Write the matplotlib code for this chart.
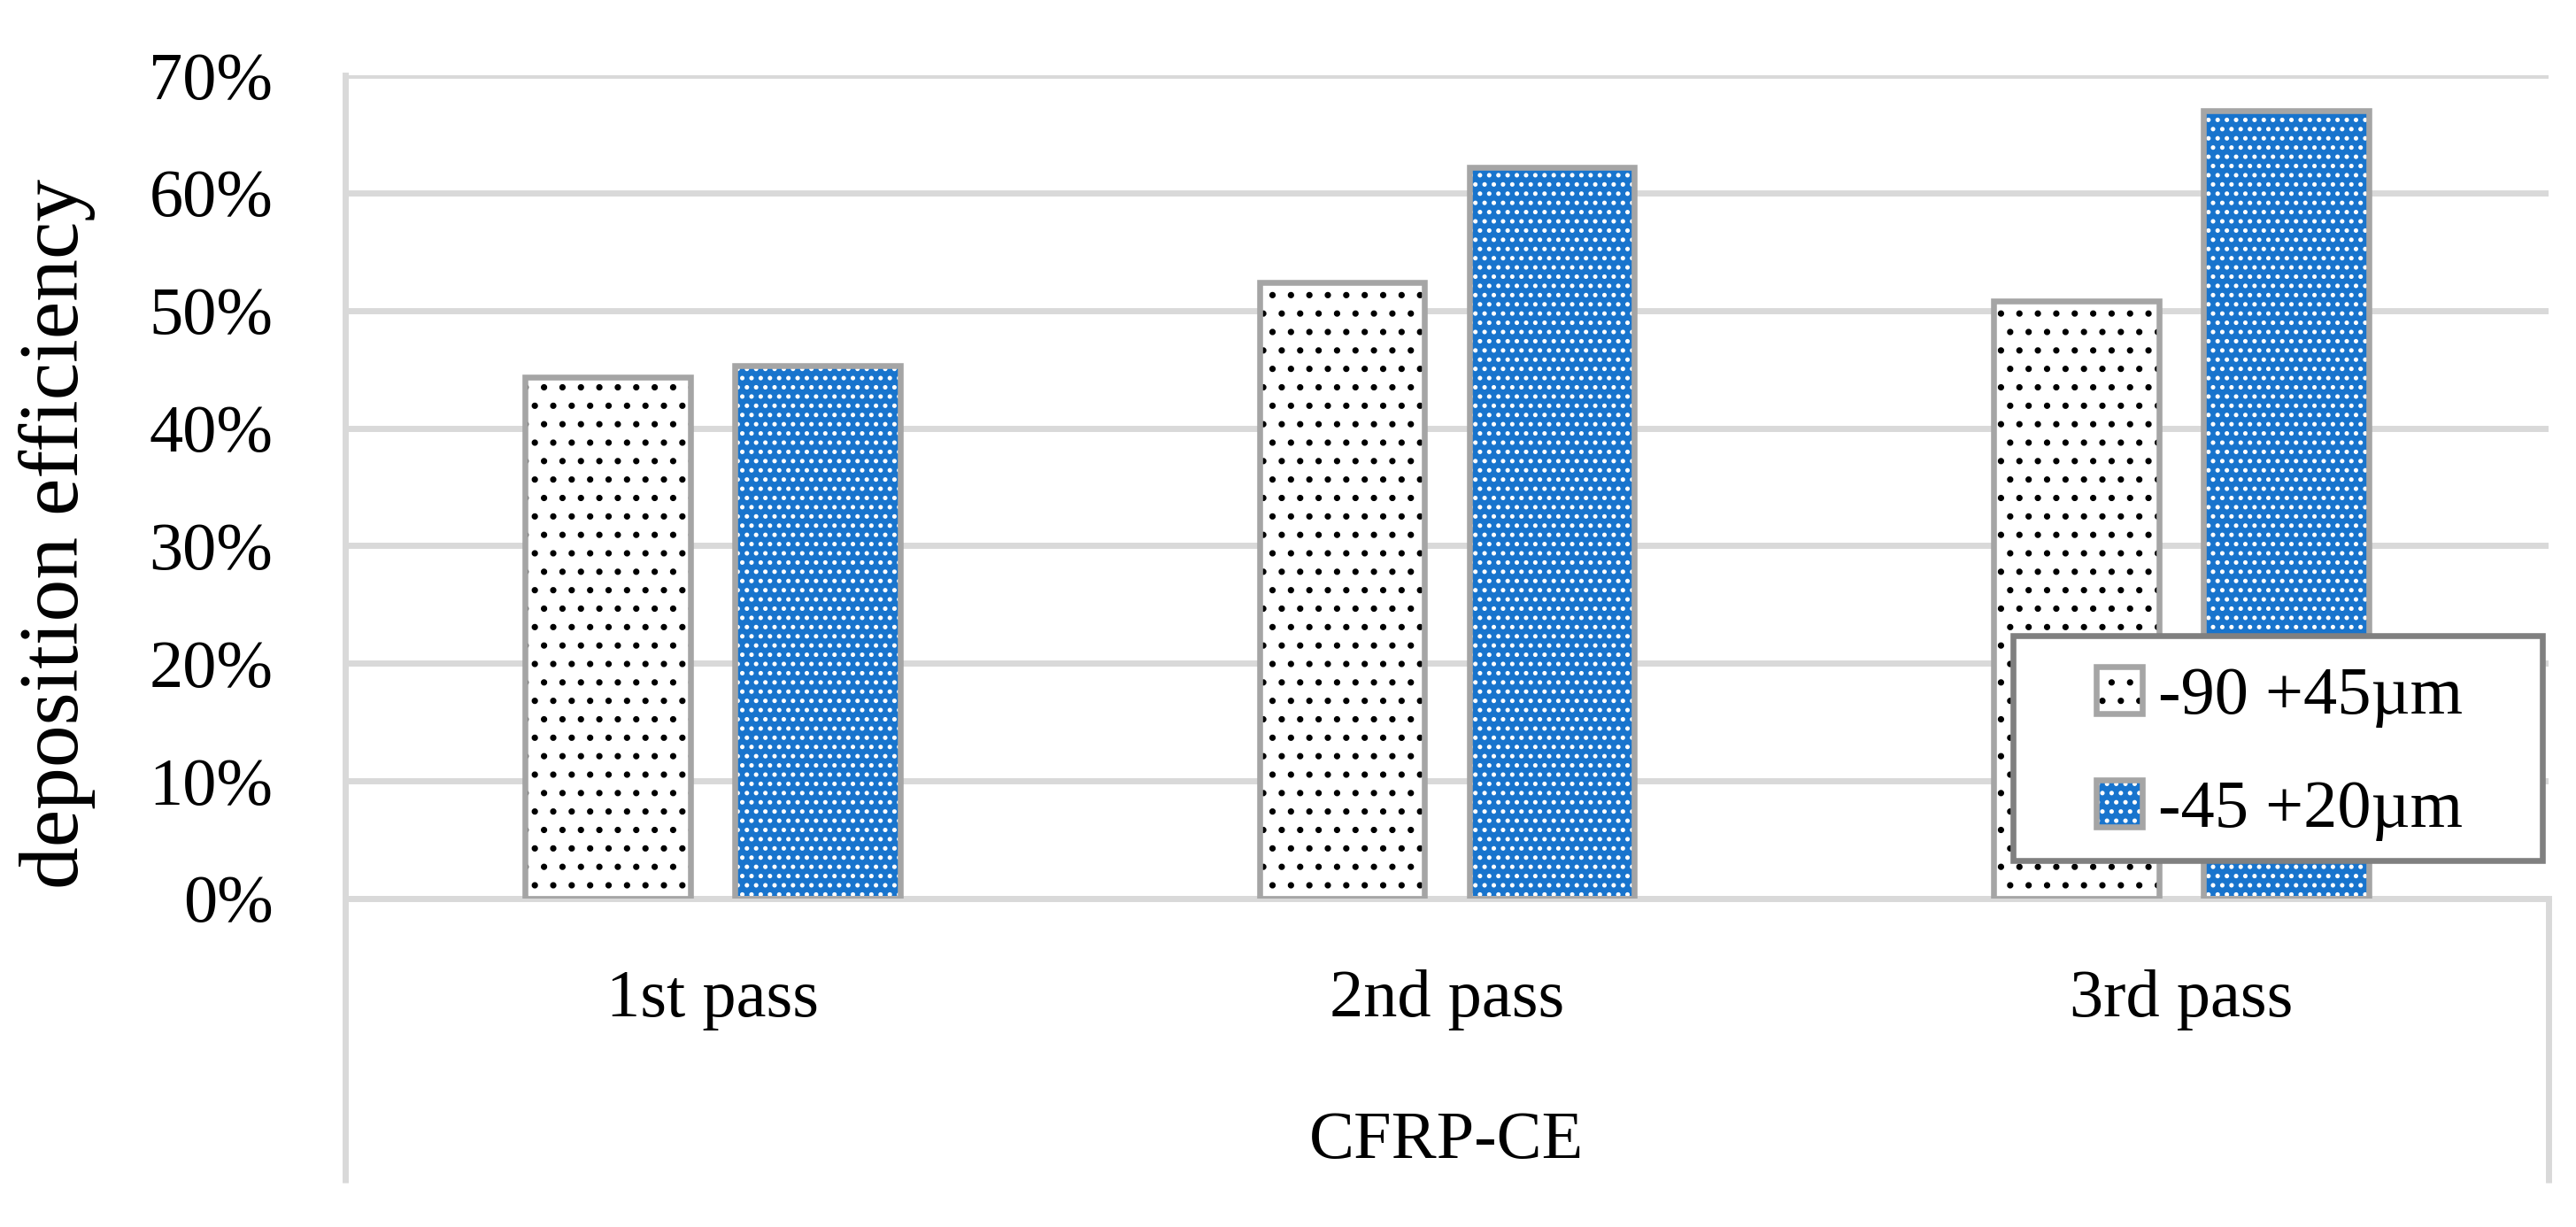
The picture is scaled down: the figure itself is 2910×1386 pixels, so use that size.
import numpy as np
import matplotlib
matplotlib.use("Agg")
import matplotlib.pyplot as plt
from matplotlib.patches import Rectangle
from matplotlib.transforms import blended_transform_factory

# data
categories = ["1st pass", "2nd pass", "3rd pass"]
group_label = "CFRP-CE"
series_labels = ["-90 +45µm", "-45 +20µm"]
coarse = [44.3, 52.4, 50.8]
fine = [45.3, 62.2, 67.0]
y_ticks = [0, 10, 20, 30, 40, 50, 60, 70]

plt.rcParams["font.family"] = ["Liberation Serif", "DejaVu Serif"]
plt.rcParams["hatch.linewidth"] = 1.7

BLUE = "#1874cd"
OUTLINE = "#a5a5a5"
GRID = "#d9d9d9"
W, H = 2910, 1386

fig = plt.figure(figsize=(W / 125, H / 125), dpi=125)
ax = fig.add_axes([390 / W, 1 - 1015 / H, (2879 - 390) / W, (1015 - 85) / H])

x = np.arange(len(categories))
width = 0.225
offset = 0.143

handles = []
for vals, pos, face, hatch_col, hatch in [
    (coarse, x - offset, "white", "black", "."),
    (fine, x + offset, BLUE, "white", ".."),
]:
    # hatch colour follows edgecolor, so draw fill and outline separately
    b = ax.bar(pos, vals, width, color=face, edgecolor=hatch_col,
               linewidth=0, hatch=hatch, zorder=2)
    o = ax.bar(pos, vals, width, fill=False, edgecolor=OUTLINE,
               linewidth=3.8, zorder=3)
    handles.append((b, o))

ax.set_xlim(-0.5, 2.5)
ax.set_ylim(0, 70)
ax.set_yticks(y_ticks)
ax.set_yticklabels([f"{t}%" for t in y_ticks])
ax.tick_params(axis="y", length=0, pad=47, labelsize=44)
ax.set_xticks([])
ax.yaxis.grid(True, color=GRID, linewidth=4)
ax.set_axisbelow(True)

for side in ["top", "right"]:
    ax.spines[side].set_visible(False)
for side in ["left", "bottom"]:
    ax.spines[side].set_color(GRID)
    ax.spines[side].set_linewidth(4)

# multi-level category axis box
ax.plot([0, 0], [0, -0.345], transform=ax.transAxes, clip_on=False,
        color=GRID, lw=4, solid_capstyle="butt")
ax.plot([1, 1], [0, -0.345], transform=ax.transAxes, clip_on=False,
        color=GRID, lw=4, solid_capstyle="butt")

trans = blended_transform_factory(ax.transData, ax.transAxes)
for xi, cat in zip(x, categories):
    ax.text(xi, -0.143, cat, transform=trans, ha="center", va="baseline",
            fontsize=44)
ax.text(0.5, -0.315, group_label, transform=ax.transAxes, ha="center",
        va="baseline", fontsize=44)

fig.text(0.0223, 0.565, "deposition efficiency", rotation=90,
         ha="center", va="center", fontsize=55)

# legend box
frame = Rectangle((2274 / W, 1 - 972 / H), (2872 - 2274) / W, (972 - 718) / H,
                  transform=fig.transFigure, facecolor="white",
                  edgecolor="#808080", linewidth=3.8, zorder=4)
fig.add_artist(frame)
leg = fig.legend(handles, series_labels, loc="upper left",
                 bbox_to_anchor=(2330 / W, 1 - 715 / H), frameon=False,
                 borderpad=0, handletextpad=0.24, labelspacing=0.77,
                 fontsize=44, handlelength=0.68, handleheight=0.68)
leg.set_zorder(5)

fig.savefig("out.png", dpi=125, facecolor="white")
